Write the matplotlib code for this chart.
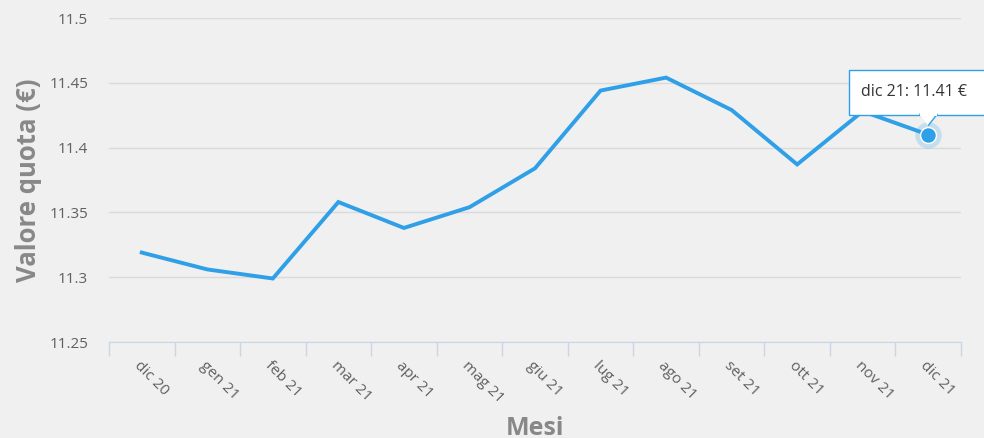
import numpy as np
import matplotlib.pyplot as plt
from matplotlib.patches import Rectangle, Polygon
from matplotlib.transforms import IdentityTransform

plt.rcParams['font.family'] = ['Open Sans', 'DejaVu Sans']

months = ["dic 20", "gen 21", "feb 21", "mar 21", "apr 21", "mag 21", "giu 21",
          "lug 21", "ago 21", "set 21", "ott 21", "nov 21", "dic 21"]
values = [11.319, 11.306, 11.299, 11.358, 11.338, 11.354, 11.384,
          11.444, 11.454, 11.429, 11.387, 11.428, 11.41]
yticks = [11.25, 11.3, 11.35, 11.4, 11.45, 11.5]

bg = '#f0f0f0'
blue = '#2f9fe8'
axis_col = '#c8d6e5'

fig = plt.figure(figsize=(9.84, 4.38), dpi=100, facecolor=bg)
ax = fig.add_axes([109/984, 1 - 342/438, 852/984, 324/438], facecolor=bg)

x = np.arange(len(months))
ax.plot(x, values, color=blue, lw=2.8, solid_joinstyle='miter', zorder=3)

ax.set_xlim(-0.5, len(months) - 0.5)
ax.set_ylim(yticks[0], yticks[-1])
ax.set_yticks(yticks)
ax.set_yticklabels([f"{v:g}" for v in yticks])
ax.grid(axis='y', color='#dadada', lw=1)
ax.set_axisbelow(True)

ax.set_xticks(x)
ax.set_xticklabels(months, rotation=-45, ha='left', va='top', rotation_mode='anchor')
ax.set_xticks(np.arange(-0.5, len(months)), minor=True)
ax.tick_params(axis='x', which='major', length=0, pad=12, labelsize=11, labelcolor='#606060')
ax.tick_params(axis='x', which='minor', length=10, color=axis_col, width=1)
ax.tick_params(axis='y', length=0, pad=15, labelsize=11, labelcolor='#606060')

for s in ['top', 'right', 'left']:
    ax.spines[s].set_visible(False)
ax.spines['bottom'].set_color(axis_col)

ax.set_ylabel("Valore quota (€)", fontsize=18.5, fontweight='bold', color='#888888', labelpad=5)
ax.set_xlabel("Mesi", fontsize=18, fontweight='bold', color='#888888', labelpad=7)

# hover marker + tooltip on the last point
ax.scatter([x[-1]], [values[-1]], s=360, color=blue, alpha=0.22, lw=0, zorder=4)
ax.scatter([x[-1]], [values[-1]], s=130, color=blue, edgecolor='white', lw=1, zorder=5)

px, py = ax.transData.transform((x[-1], values[-1]))
box = Rectangle((px - 79, py + 20), 160, 45, transform=IdentityTransform(),
                fc='white', ec=blue, lw=1, zorder=6, clip_on=False)
fig.add_artist(box)
tri = Polygon([(px - 9, py + 20.5), (px + 9, py + 20.5), (px, py + 9)], closed=False,
              transform=IdentityTransform(), fc='white', ec=blue, lw=1, zorder=7)
fig.add_artist(tri)
fig.add_artist(Rectangle((px - 8.3, py + 19), 16.6, 2.5, transform=IdentityTransform(),
                         fc='white', ec='none', zorder=8))
fig.text(px - 67, py + 43, f"{months[-1]}: {values[-1]:.2f} €", transform=IdentityTransform(),
         ha='left', va='center', fontsize=11.5, color='#333333', zorder=9)

fig.savefig("out.png", dpi=100, facecolor=bg)
